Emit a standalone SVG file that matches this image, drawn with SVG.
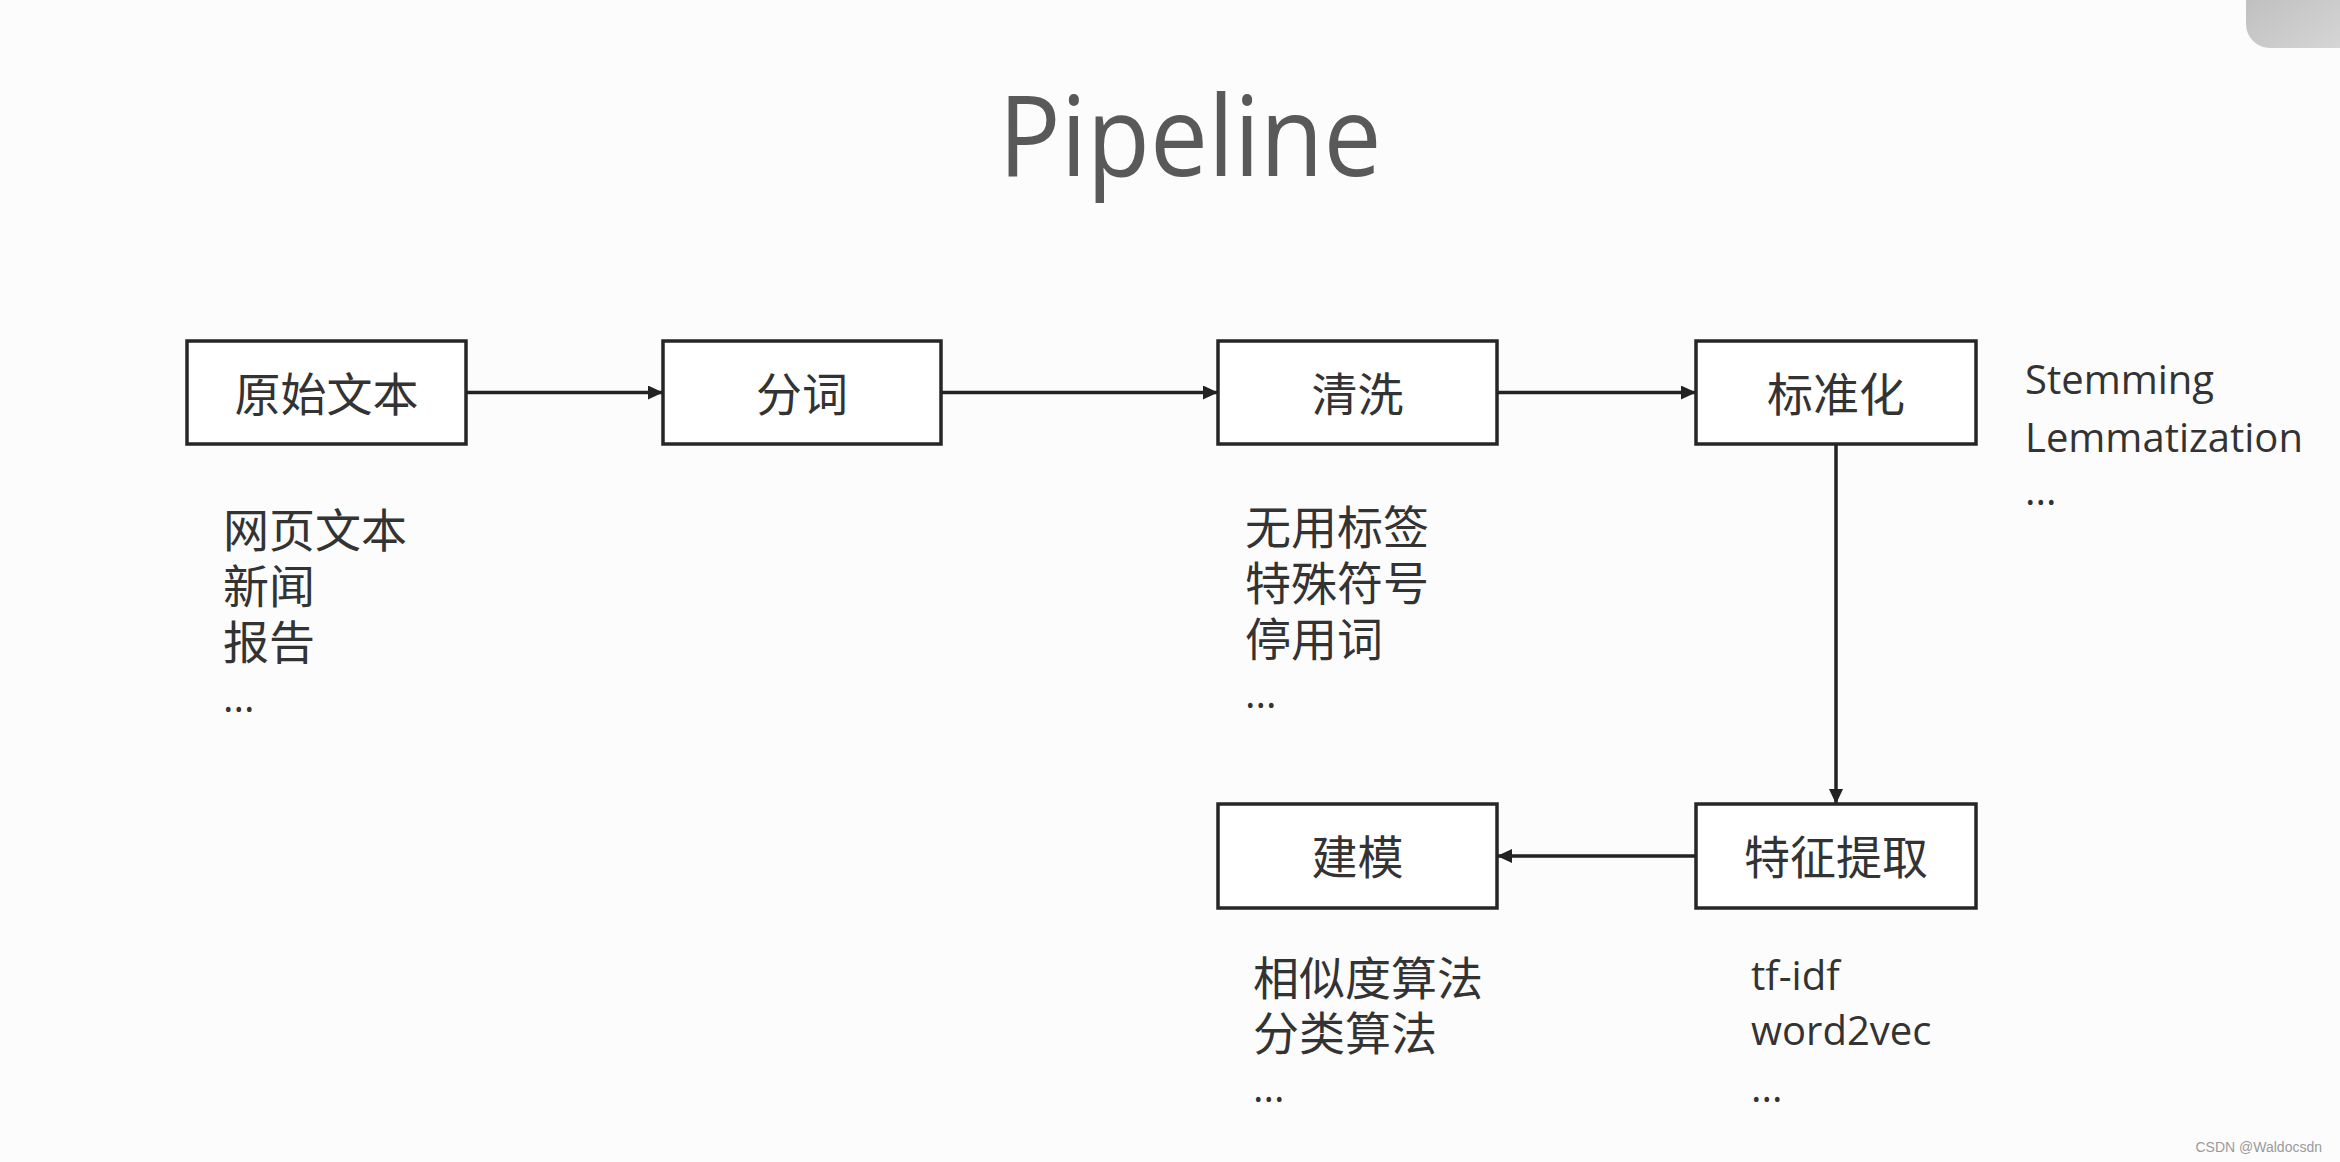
<svg xmlns="http://www.w3.org/2000/svg" width="2340" height="1162" viewBox="0 0 2340 1162">
<defs>
<marker id="arr" markerUnits="userSpaceOnUse" markerWidth="16" markerHeight="14" refX="15" refY="7" orient="auto">
<path d="M0,0 L15,7 L0,14 z" fill="#222"/>
</marker>
<linearGradient id="corner" x1="0" y1="0" x2="1" y2="1">
<stop offset="0" stop-color="#b8b8b8"/>
<stop offset="1" stop-color="#dadada"/>
</linearGradient>
<style>
.box{fill:#fff;stroke:#262626;stroke-width:3.5}
.lbl{font-family:"Noto Sans CJK SC","Open Sans",sans-serif;font-size:46px;fill:#333;text-anchor:middle}
.cjk{font-family:"Noto Sans CJK SC","Open Sans",sans-serif;font-size:46px;fill:#333}
.lat{font-family:"Open Sans","Noto Sans CJK SC",sans-serif;font-size:40px;fill:#333}
.edge{stroke:#222;stroke-width:3.5;fill:none;marker-end:url(#arr)}
</style>
</defs>
<rect x="0" y="0" width="2340" height="1162" fill="#fdfcfd"/>
<rect x="2246" y="-40" width="130" height="88" rx="24" fill="url(#corner)"/>
<text x="1190" y="176" font-family="Open Sans, sans-serif" font-size="112" fill="#595959" text-anchor="middle" textLength="383" lengthAdjust="spacingAndGlyphs">Pipeline</text>

<g id="connectors">
<line class="edge" x1="466" y1="392.5" x2="663" y2="392.5"/>
<line class="edge" x1="941" y1="392.5" x2="1218" y2="392.5"/>
<line class="edge" x1="1497" y1="392.5" x2="1696" y2="392.5"/>
<line class="edge" x1="1836" y1="444" x2="1836" y2="804"/>
<line class="edge" x1="1696" y1="856" x2="1497" y2="856"/>
</g>

<g id="node-raw">
<rect class="box" x="187" y="341" width="279" height="103"/>
<text class="lbl" x="326.5" y="411">原始文本</text>
<text class="cjk" x="223" y="547">网页文本</text>
<text class="cjk" x="223" y="603">新闻</text>
<text class="cjk" x="223" y="659">报告</text>
<text class="lat" x="223" y="712">...</text>
</g>

<g id="node-seg">
<rect class="box" x="663" y="341" width="278" height="103"/>
<text class="lbl" x="802" y="411">分词</text>
</g>

<g id="node-clean">
<rect class="box" x="1218" y="341" width="279" height="103"/>
<text class="lbl" x="1357.5" y="411">清洗</text>
<text class="cjk" x="1245" y="544">无用标签</text>
<text class="cjk" x="1245" y="600">特殊符号</text>
<text class="cjk" x="1245" y="656">停用词</text>
<text class="lat" x="1245" y="708">...</text>
</g>

<g id="node-norm">
<rect class="box" x="1696" y="341" width="280" height="103"/>
<text class="lbl" x="1836" y="411">标准化</text>
<text class="lat" x="2025" y="394">Stemming</text>
<text class="lat" x="2025" y="452">Lemmatization</text>
<text class="lat" x="2025" y="505">...</text>
</g>

<g id="node-feat">
<rect class="box" x="1696" y="804" width="280" height="104"/>
<text class="lbl" x="1836" y="874">特征提取</text>
<text class="lat" x="1751" y="990">tf-idf</text>
<text class="lat" x="1751" y="1045">word2vec</text>
<text class="lat" x="1751" y="1102">...</text>
</g>

<g id="node-model">
<rect class="box" x="1218" y="804" width="279" height="104"/>
<text class="lbl" x="1357.5" y="874">建模</text>
<text class="cjk" x="1253" y="995">相似度算法</text>
<text class="cjk" x="1253" y="1050">分类算法</text>
<text class="lat" x="1253" y="1102">...</text>
</g>

<text x="2322" y="1152" font-family="Liberation Sans, Arial, sans-serif" font-size="14" fill="#9a9a9a" text-anchor="end">CSDN @Waldocsdn</text>
</svg>
